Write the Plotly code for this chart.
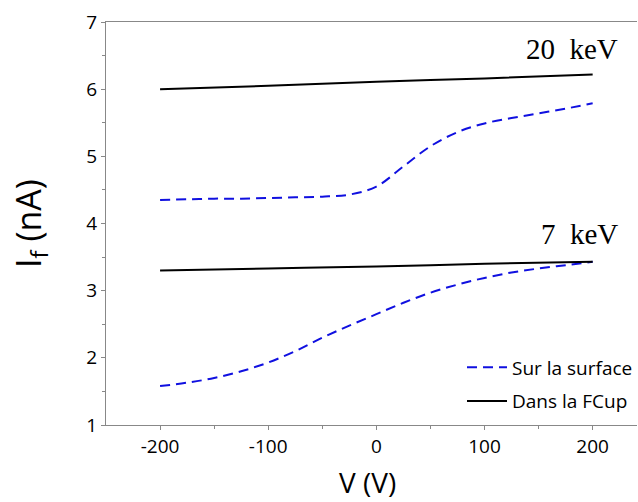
import plotly.graph_objects as go

# Data
v_surface = [-200, -175, -150, -125, -100, -75, -50, -25, 0, 25, 50, 75, 100, 125, 150, 175, 200]
surf_20kev = [4.35, 4.36, 4.37, 4.37, 4.38, 4.39, 4.40, 4.43, 4.55, 4.85, 5.15, 5.36, 5.49, 5.57, 5.64, 5.71, 5.79]
surf_7kev = [1.58, 1.63, 1.70, 1.80, 1.93, 2.10, 2.30, 2.48, 2.65, 2.82, 2.97, 3.09, 3.19, 3.27, 3.33, 3.38, 3.43]

v_fcup = [-200, -100, 0, 100, 200]
fcup_20kev = [6.00, 6.05, 6.11, 6.16, 6.22]
fcup_7kev = [3.30, 3.33, 3.36, 3.40, 3.43]

x_ticks = [-200, -100, 0, 100, 200]
y_ticks = [1, 2, 3, 4, 5, 6, 7]

FONT = "Open Sans"
BLUE = "#1010e0"

fig = go.Figure()
fig.add_trace(go.Scatter(x=v_surface, y=surf_20kev, mode="lines", name="Sur la surface",
                         legendgroup="surf",
                         line=dict(color=BLUE, width=2, dash="10px,6px", shape="spline")))
fig.add_trace(go.Scatter(x=v_fcup, y=fcup_20kev, mode="lines", name="Dans la FCup",
                         legendgroup="fcup",
                         line=dict(color="black", width=2, shape="spline")))
fig.add_trace(go.Scatter(x=v_surface, y=surf_7kev, mode="lines", name="Sur la surface",
                         legendgroup="surf",
                         line=dict(color=BLUE, width=2, dash="10px,6px", shape="spline"),
                         showlegend=False))
fig.add_trace(go.Scatter(x=v_fcup, y=fcup_7kev, mode="lines", name="Dans la FCup",
                         legendgroup="fcup",
                         line=dict(color="black", width=2, shape="spline"), showlegend=False))

fig.add_annotation(x=225, y=6.6, xref="x", yref="y", text="20\u2002keV", showarrow=False,
                   xanchor="right", yanchor="middle",
                   font=dict(family="Liberation Serif", size=29, color="black"))
fig.add_annotation(x=225, y=3.84, xref="x", yref="y", text="7\u2002keV", showarrow=False,
                   xanchor="right", yanchor="middle",
                   font=dict(family="Liberation Serif", size=29, color="black"))
# x-axis title placed below the tick labels
fig.add_annotation(x=0.492, y=-0.142, xref="paper", yref="paper", text="V (V)", showarrow=False,
                   xanchor="center", yanchor="middle",
                   font=dict(family=FONT, size=28, color="black"))

axis_color = "#888888"
fig.update_layout(
    width=638, height=502,
    margin=dict(l=106, r=0, t=22, b=77),
    paper_bgcolor="white", plot_bgcolor="white",
    font=dict(family=FONT, color="black"),
    showlegend=True,
    legend=dict(x=0.671, y=0.19, xanchor="left", yanchor="top",
                traceorder="grouped", tracegroupgap=6,
                font=dict(family=FONT, size=19, color="black"),
                bgcolor="rgba(0,0,0,0)", itemwidth=40),
    xaxis=dict(range=[-250, 241], tickvals=x_ticks, ticktext=[str(t) for t in x_ticks],
               automargin=False,
               showline=True, linecolor=axis_color, linewidth=1, mirror=True,
               ticks="outside", ticklen=4, tickcolor=axis_color,
               minor=dict(tickvals=[-150, -50, 50, 150], ticks="outside", ticklen=3, tickcolor=axis_color),
               showgrid=False, zeroline=False,
               tickfont=dict(family=FONT, size=19, color="black")),
    yaxis=dict(range=[1, 7], tickvals=y_ticks, ticktext=[str(t) for t in y_ticks],
               automargin=False,
               showline=True, linecolor=axis_color, linewidth=1, mirror=False,
               ticks="outside", ticklen=4, tickcolor=axis_color,
               minor=dict(tickvals=[1.5, 2.5, 3.5, 4.5, 5.5, 6.5], ticks="outside", ticklen=3, tickcolor=axis_color),
               showgrid=False, zeroline=False,
               tickfont=dict(family=FONT, size=19, color="black"),
               title=dict(text="I<sub>f</sub> (nA)", font=dict(family=FONT, size=34, color="black"), standoff=34)),
)

fig.write_html("out.html", config={"displayModeBar": False},
               post_script="document.body.style.margin='0';document.body.style.overflow='hidden';")
